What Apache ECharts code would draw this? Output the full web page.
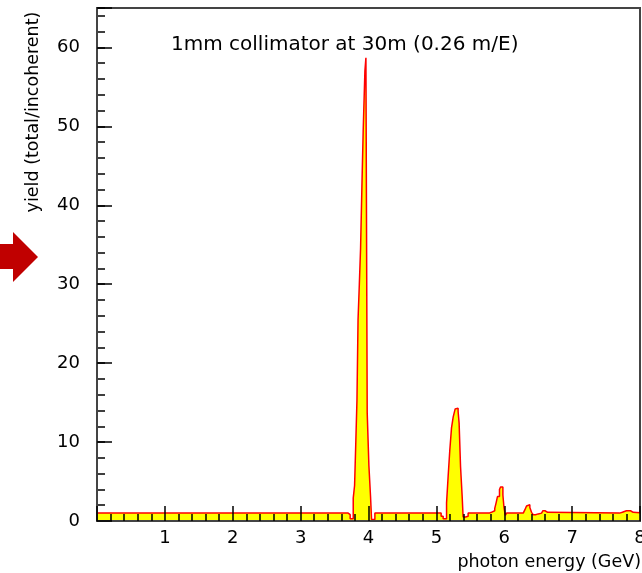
<!DOCTYPE html>
<html>
<head>
<meta charset="utf-8">
<script src="https://cdn.jsdelivr.net/npm/echarts@6/dist/echarts.min.js"></script>
<style>
html,body{margin:0;padding:0;background:#fff;}
#chart{width:642px;height:573px;}
</style>
</head>
<body>
<div id="chart"></div>
<script>
const binLeft = [0, 3.70, 3.73, 3.775, 3.795, 3.814, 3.83, 3.846, 3.865, 3.883, 3.903, 3.922, 3.947, 3.962, 3.981, 4.006, 4.03, 4.045, 4.094,
  5.07, 5.10, 5.15, 5.173, 5.198, 5.223, 5.248, 5.277, 5.287, 5.32, 5.335, 5.356, 5.38, 5.394, 5.43, 5.468,
  5.78, 5.81, 5.86, 5.88, 5.90, 5.93, 5.945, 5.98, 5.995, 6.015, 6.035,
  6.28, 6.303, 6.328, 6.34, 6.377, 6.402, 6.426, 6.46, 6.50, 6.55, 6.57, 6.60, 6.62, 6.64,
  7.70, 7.74, 7.76, 7.80, 7.82, 7.86, 7.88, 7.90];
const binValue = [1.0, 0.8, 0.3, 2.9, 4.5, 10.3, 15.3, 25.5, 30.0, 34.5, 42.4, 49.5, 57.0, 58.7, 13.7, 7.0, 3.1, 0.2, 1.0,
  0.6, 0.3, 2.3, 5.6, 9.0, 11.8, 13.2, 14.2, 14.3, 13.9, 12.4, 6.9, 3.1, 0.5, 0.6, 1.0,
  1.1, 1.3, 1.6, 2.3, 3.1, 4.0, 4.3, 3.3, 1.8, 0.7, 1.0,
  1.1, 1.4, 1.9, 2.05, 1.7, 1.1, 0.8, 0.9, 1.0, 1.15, 1.3, 1.2, 1.1, 1.0,
  1.1, 1.2, 1.3, 1.35, 1.3, 1.25, 1.1, 1.05];
const xMax = 8;
const yMax = 65;
const titleText = '1mm collimator at 30m (0.26 m/E)';
const xName = 'photon energy (GeV)';
const yName = 'yield (total/incoherent)';

const stepData = binLeft.map((x, i) => [x, binValue[i]]);
stepData.push([xMax, binValue[binValue.length - 1]]);

const FONT = 'DejaVu Sans';
const chart = echarts.init(document.getElementById('chart'));
chart.setOption({
  animation: false,
  backgroundColor: '#fff',
  title: {
    text: titleText, left: 166, top: 30,
    textStyle: {fontFamily: FONT, fontSize: 20, fontWeight: 'normal', color: '#000'}
  },
  grid: {left: 97, right: 2, top: 8, bottom: 52, show: true, borderColor: '#444', borderWidth: 2,
    backgroundColor: 'transparent', containLabel: false, outerBoundsMode: 'none'},
  xAxis: [{
    type: 'value', min: 0, max: xMax, interval: 1, z: 10,
    axisLine: {show: true, lineStyle: {color: '#444', width: 2}},
    axisTick: {show: true, inside: true, length: 15, lineStyle: {color: '#000', width: 1.5}},
    minorTick: {show: true, splitNumber: 5, length: 7, lineStyle: {color: '#000', width: 1.5}},
    splitLine: {show: false},
    axisLabel: {
      margin: 8, fontFamily: FONT, fontSize: 18, color: '#000', hideOverlap: false,
      formatter: v => (v === 0 ? '' : String(v))
    }
  }],
  yAxis: [{
    type: 'value', min: 0, max: yMax, interval: 10, z: 10,
    axisLine: {show: true, lineStyle: {color: '#444', width: 2}},
    axisTick: {show: true, inside: true, length: 15, lineStyle: {color: '#000', width: 1.5}},
    splitLine: {show: false},
    axisLabel: {
      margin: 17, fontFamily: FONT, fontSize: 18, color: '#000',
      formatter: v => (v % 10 === 0 ? String(v) : '')
    }
  }, {
    type: 'value', min: 0, max: yMax, interval: 2, z: 9, position: 'left',
    axisLine: {show: false},
    axisTick: {show: true, inside: true, length: 8, lineStyle: {color: '#000', width: 1.5}},
    splitLine: {show: false},
    axisLabel: {show: false}
  }],
  graphic: [
    {type: 'polygon', z: 100, shape: {points: [[0, 244], [13, 244], [13, 232], [38, 257], [13, 282], [13, 269], [0, 269]]},
      style: {fill: '#c00000'}},
    {type: 'text', z: 100, x: 33, y: 112, rotation: Math.PI / 2,
      style: {text: yName, fontFamily: FONT, fontSize: 17.5, fill: '#000', align: 'center', verticalAlign: 'middle'}},
    {type: 'text', z: 100, x: 641, y: 562,
      style: {text: xName, fontFamily: FONT, fontSize: 17.5, fill: '#000', align: 'right', verticalAlign: 'middle'}}
  ],
  series: [{
    type: 'line', xAxisIndex: 0, yAxisIndex: 0,
    data: stepData, step: 'end', showSymbol: false, symbol: 'none',
    lineStyle: {color: '#ff0000', width: 1.5},
    areaStyle: {color: '#ffff00', opacity: 1},
    z: 2
  }]
});
</script>
</body>
</html>
